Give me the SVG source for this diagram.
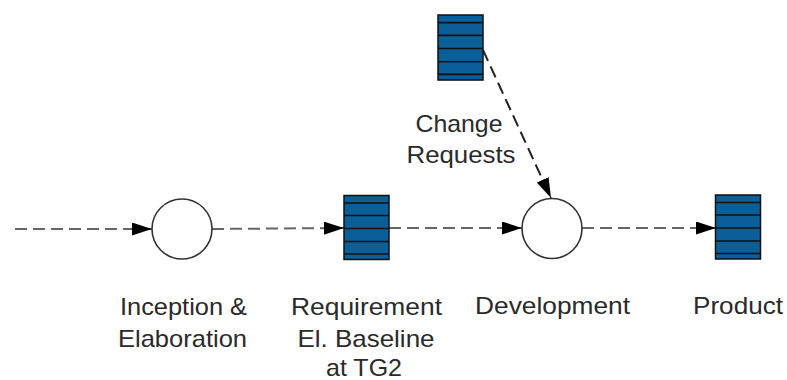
<svg xmlns="http://www.w3.org/2000/svg" xmlns:xlink="http://www.w3.org/1999/xlink" width="787" height="380" viewBox="0 0 787 380">
  <defs>
    <style>
      .flow { fill: none; stroke: #666; stroke-width: 2; stroke-dasharray: 12 6; }
      .flow.dark { stroke: #222; }
      .proc { fill: #fff; stroke: #333; stroke-width: 1.6; }
      .store { fill: #0a5f99; stroke: #111; stroke-width: 1.5; }
      .stripe { stroke: #111; stroke-width: 1.6; }
      .lbl { font-family: "Liberation Sans", Arial, sans-serif; font-size: 24px; fill: #2a2a2a; text-anchor: middle; }
    </style>
    <marker id="arrow" viewBox="0 0 20 13" markerWidth="20" markerHeight="13" refX="20" refY="6.5" orient="auto" markerUnits="userSpaceOnUse">
      <path d="M0,0 L20,6.5 L0,13 Z" fill="#000"/>
    </marker>
    <!-- striped data-store block, 45 x 64 -->
    <g id="storeShape">
      <rect class="store" x="0" y="0" width="45" height="64"/>
      <line class="stripe" x1="0" y1="7.5" x2="45" y2="7.5"/>
      <line class="stripe" x1="0" y1="20" x2="45" y2="20"/>
      <line class="stripe" x1="0" y1="33" x2="45" y2="33"/>
      <line class="stripe" x1="0" y1="46" x2="45" y2="46"/>
      <line class="stripe" x1="0" y1="58.5" x2="45" y2="58.5"/>
    </g>
  </defs>

  <g id="connectors">
    <line class="flow" x1="15" y1="229" x2="152" y2="229" marker-end="url(#arrow)"/>
    <line class="flow" x1="212" y1="229" x2="344" y2="228" marker-end="url(#arrow)"/>
    <line class="flow" x1="389" y1="228" x2="522" y2="228" marker-end="url(#arrow)"/>
    <line class="flow" x1="582" y1="228" x2="716" y2="228" marker-end="url(#arrow)"/>
    <line class="flow dark" x1="483" y1="50" x2="551" y2="198" marker-end="url(#arrow)"/>
  </g>

  <g id="change-requests">
    <use xlink:href="#storeShape" href="#storeShape" transform="translate(438,15) scale(1,1.016)"/>
    <text class="lbl" x="459" y="131.7" textLength="87" lengthAdjust="spacingAndGlyphs">Change</text>
    <text class="lbl" x="461" y="163.3" textLength="109" lengthAdjust="spacingAndGlyphs">Requests</text>
  </g>

  <g id="inception">
    <circle class="proc" cx="182" cy="229" r="30"/>
    <text class="lbl" x="183.5" y="315" textLength="127" lengthAdjust="spacingAndGlyphs">Inception &amp;</text>
    <text class="lbl" x="182.5" y="346.7" textLength="129" lengthAdjust="spacingAndGlyphs">Elaboration</text>
  </g>

  <g id="requirement-baseline">
    <use xlink:href="#storeShape" href="#storeShape" transform="translate(344,195.5)"/>
    <text class="lbl" x="366.5" y="315" textLength="151" lengthAdjust="spacingAndGlyphs">Requirement</text>
    <text class="lbl" x="366" y="346.7" textLength="137" lengthAdjust="spacingAndGlyphs">El. Baseline</text>
    <text class="lbl" x="364" y="376" textLength="76" lengthAdjust="spacingAndGlyphs">at TG2</text>
  </g>

  <g id="development">
    <circle class="proc" cx="552" cy="228.5" r="30"/>
    <text class="lbl" x="552.5" y="314" textLength="155" lengthAdjust="spacingAndGlyphs">Development</text>
  </g>

  <g id="product">
    <use xlink:href="#storeShape" href="#storeShape" transform="translate(715.5,195)"/>
    <text class="lbl" x="738" y="314" textLength="90" lengthAdjust="spacingAndGlyphs">Product</text>
  </g>
</svg>
